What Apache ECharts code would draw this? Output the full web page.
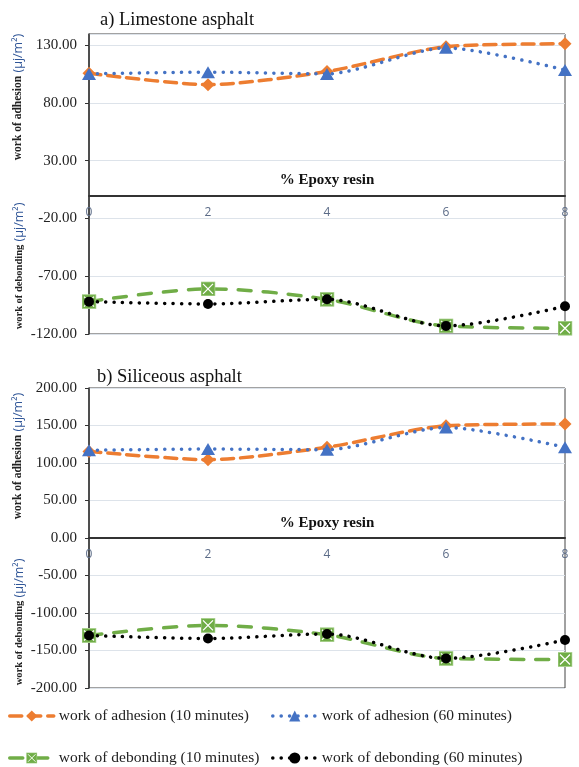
<!DOCTYPE html>
<html><head><meta charset="utf-8">
<script src="https://cdn.jsdelivr.net/npm/echarts@6/dist/echarts.min.js"></script>
<style>html,body{margin:0;padding:0;background:#fff}#c{width:579px;height:767px}</style>
</head><body><div id="c"></div>
<script>
// ---- data ----
const xTicks = [0, 2, 4, 6, 8];
const yTicksA = [-120, -70, -20, 30, 80, 130];
const yTicksB = [-200, -150, -100, -50, 0, 50, 100, 150, 200];
const seriesNames = ['work of adhesion (10 minutes)', 'work of adhesion (60 minutes)', 'work of debonding (10 minutes)', 'work of debonding (60 minutes)'];
const limeAdh10 = [105.5, 95.7, 107, 128.5, 131];
const limeAdh60 = [105, 106.5, 105, 127.5, 108.4];
const limeDeb10 = [-92, -81, -90, -113, -115];
const limeDeb60 = [-92, -94, -90, -113, -96];
const silAdh10 = [115.5, 104.4, 121, 149.7, 152];
const silAdh60 = [117, 118.6, 117.7, 147.5, 121];
const silDeb10 = [-130, -116.5, -129, -160.5, -162];
const silDeb60 = [-130, -134, -128, -160.5, -136];

const serif = '"Liberation Serif", "Times New Roman", serif';
const pair = (xs, ys) => xs.map((x, i) => [x, ys[i]]);
const boxX = 'image://data:image/svg+xml;utf8,' + encodeURIComponent(
  "<svg xmlns='http://www.w3.org/2000/svg' width='30' height='30' viewBox='0 0 30 30'><rect x='1' y='1' width='28' height='28' fill='#70AD47' stroke='#A9D18E' stroke-width='2'/><path d='M5 5L25 25M25 5L5 25' stroke='#ffffff' stroke-width='2.5'/></svg>");

const styles = [
  {color: '#ED7D31', type: [12, 7], width: 3.5, symbol: 'diamond', size: [13, 13], smooth: 0.25},
  {color: '#4472C4', type: [0.1, 8.3], width: 3.5, symbol: 'triangle', size: [14, 12], smooth: 0.25},
  {color: '#70AD47', type: [13, 12], width: 3.5, symbol: boxX, size: [15, 15], smooth: 0.3},
  {color: '#000000', type: [0.1, 8.3], width: 3.5, symbol: 'circle', size: 10, smooth: 0.3}
];

function mkSeries(grid, data) {
  return data.map((d, i) => ({
    name: seriesNames[i], type: 'line', xAxisIndex: grid, yAxisIndex: grid,
    data: pair(xTicks, d), smooth: styles[i].smooth,
    symbol: styles[i].symbol, symbolSize: styles[i].size, showAllSymbol: true,
    itemStyle: {color: styles[i].color},
    lineStyle: {color: styles[i].color, type: styles[i].type, width: styles[i].width, cap: 'round'},
    z: 2 + i
  }));
}

function yAxis(grid, ticks, max) {
  const top = ticks[ticks.length - 1];
  return {
    type: 'value', gridIndex: grid, min: ticks[0], max: max, interval: ticks[1] - ticks[0],
    axisLine: {show: true, onZero: false, lineStyle: {color: '#333', width: 1.5}},
    axisTick: {show: true, length: 4, lineStyle: {color: '#333'}},
    splitLine: {show: true, lineStyle: {color: '#dde3ea', width: 1}},
    axisLabel: {margin: 12, color: '#222', fontFamily: serif, fontSize: 15,
      showMaxLabel: max === top,
      formatter: v => (v > top + 1e-9 ? '' : v.toFixed(2))}
  };
}
// offset lifts the bottom x axis up to the y=0 line of its panel
function xAxis(grid, offset) {
  return {
    type: 'value', gridIndex: grid, position: 'bottom', offset: offset,
    min: xTicks[0], max: xTicks[xTicks.length - 1], interval: xTicks[1] - xTicks[0],
    axisLine: {show: true, onZero: false, lineStyle: {color: '#333', width: 2}},
    axisTick: {show: false}, splitLine: {show: false},
    axisLabel: {margin: 11, color: '#5b6b87', fontFamily: '"Open Sans", sans-serif', fontSize: 12}
  };
}
function vName(x, y, main, size) {
  return {
    type: 'text', x: x, y: y, rotation: Math.PI / 2, z: 10,
    style: {
      text: '{a|' + main + '} {b|(µj/m²)}', align: 'center', verticalAlign: 'middle',
      rich: {
        a: {fontFamily: serif, fontWeight: 'bold', fontSize: size, fill: '#222'},
        b: {fontFamily: '"Open Sans", sans-serif', fontSize: 12.5, fill: '#2f5597'}
      }
    }
  };
}
function text(x, y, t, font, align) {
  return {type: 'text', x: x, y: y, z: 10, style: {text: t, font: font, fill: '#111', align: align, verticalAlign: 'middle'}};
}
function legendItem(i, left, top) {
  return {data: [seriesNames[i]], left: left, top: top, padding: 0, itemWidth: 44, itemHeight: 14, itemGap: 0, selectedMode: false,
    lineStyle: {width: 3.5, type: styles[i].type, cap: 'round', color: styles[i].color},
    textStyle: {fontFamily: serif, fontSize: 15.5, color: '#222'}};
}

const chart = echarts.init(document.getElementById('c'), null, {renderer: 'canvas'});
chart.setOption({
  animation: false,
  backgroundColor: '#fff',
  grid: [
    {left: 89, right: 14, top: 34, height: 300, show: true, borderColor: '#444', borderWidth: 1, outerBoundsMode: 'none', containLabel: false},
    {left: 89, right: 14, top: 388, height: 300, show: true, borderColor: '#444', borderWidth: 1, outerBoundsMode: 'none', containLabel: false}
  ],
  xAxis: [xAxis(0, -(300 * 120 / 259.5)), xAxis(1, -150)],
  yAxis: [yAxis(0, yTicksA, 139.5), yAxis(1, yTicksB, 200)],
  series: [].concat(
    mkSeries(0, [limeAdh10, limeAdh60, limeDeb10, limeDeb60]),
    mkSeries(1, [silAdh10, silAdh60, silDeb10, silDeb60])
  ),
  legend: [
    legendItem(0, 8, 708),
    legendItem(1, 271, 708),
    legendItem(2, 8, 750),
    legendItem(3, 271, 750)
  ],
  graphic: [
    text(100, 20, 'a) Limestone asphalt', '18.5px ' + serif, 'left'),
    text(97, 377, 'b) Siliceous asphalt', '18.5px ' + serif, 'left'),
    text(327, 180, '% Epoxy resin', 'bold 15px ' + serif, 'center'),
    text(327, 523, '% Epoxy resin', 'bold 15px ' + serif, 'center'),
    vName(18, 97, 'work of adhesion', 11.5),
    vName(19, 266, 'work of debonding', 10.5),
    vName(18, 456, 'work of adhesion', 11.5),
    vName(19, 622, 'work of debonding', 10.5)
  ]
});
</script></body></html>
